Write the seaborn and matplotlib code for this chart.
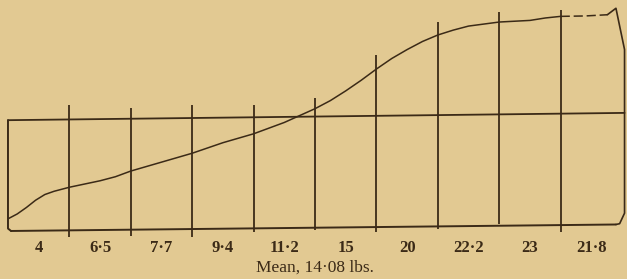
import numpy as np
import pandas as pd
import seaborn as sns
import matplotlib
matplotlib.use("Agg")
import matplotlib.pyplot as plt

# ogive: percentile of the group -> strength (lbs)
pct = [0, 1.5, 3, 4.5, 6, 7.5, 10, 12.5, 15, 17.5, 20, 25, 30, 35, 40, 45,
       50, 52.5, 55, 57.5, 60, 62.5, 65, 67.5, 70, 72.5, 75, 80, 85, 87.5, 90]
lbs = [1.5, 2.1, 2.9, 3.8, 4.5, 4.9, 5.4, 5.8, 6.2, 6.7, 7.4, 8.5, 9.6,
       10.9, 12.0, 13.4, 15.1, 16.1, 17.3, 18.6, 20.0, 21.3, 22.4, 23.4,
       24.2, 24.8, 25.3, 25.8, 26.0, 26.3, 26.5]
# last tenth, drawn broken in the original
pct_tail = [90, 94, 97.6]
lbs_tail = [26.5, 26.55, 26.7]
# closing stroke at the right edge
pct_edge = [97.6, 99.0, 100.4, 100.4, 99.6, 99.0]
lbs_edge = [26.7, 27.5, 22.4, 2.2, 0.9, 0.8]

deciles = [10, 20, 30, 40, 50, 60, 70, 80, 90]
ordinate_tops = [15.6, 15.2, 15.6, 15.6, 16.4, 21.7, 25.8, 27.0, 27.3]
ordinate_bottoms = [-0.7, -0.6, -0.7, -0.1, 0.1, -0.1, 0.3, 0.9, -0.1]

col_labels = ["4", "6·5", "7·7", "9·4", "11·2", "15", "20", "22·2", "23", "21·8"]
mean_val = 14.08

paper = "#E2C992"
ink = "#3b2a17"

sns.set_style("white")
plt.rcParams["font.family"] = ["Liberation Serif", "DejaVu Serif"]

fig = plt.figure(figsize=(6.27, 2.79), dpi=100, facecolor=paper)
ax = fig.add_axes([0, 0, 1, 1])
ax.set_facecolor(paper)

curve = pd.DataFrame({"pct": pct, "lbs": lbs})
sns.lineplot(data=curve, x="pct", y="lbs", ax=ax, color=ink, lw=1.1)
sns.lineplot(x=pct_tail, y=lbs_tail, ax=ax, color=ink, lw=1.1,
             linestyle=(0, (6, 2.5)))
sns.lineplot(x=pct_edge, y=lbs_edge, ax=ax, color=ink, lw=1.2, sort=False,
             estimator=None)

# frame: left side, baseline (sloping a little, as printed), mean line
ax.plot([0, 0, 0.5], [mean_val - 0.4, 0.3, 0], color=ink, lw=1.4)
ax.plot([0.5, 99.0], [0, 0.8], color=ink, lw=1.4)
ax.plot([0, 100.4], [mean_val - 0.4, mean_val + 0.5], color=ink, lw=1.3)

# decile ordinates
ax.vlines(deciles, ordinate_bottoms, ordinate_tops, color=ink, lw=1.3)

# column values and mean
centres = np.arange(5, 100, 10)
for x, lab in zip(centres, col_labels):
    ax.text(x, -2.1, lab, ha="center", va="center", fontsize=12,
            fontweight="bold", color=ink)
ax.text(50, -4.55, "Mean, 14·08 lbs.", ha="center", va="center",
        fontsize=12.5, color=ink)

ax.set_xlim(-1.3, 100.8)
ax.set_ylim(-5.93, 28.52)
ax.axis("off")

fig.savefig("out.png", dpi=100, facecolor=paper)
